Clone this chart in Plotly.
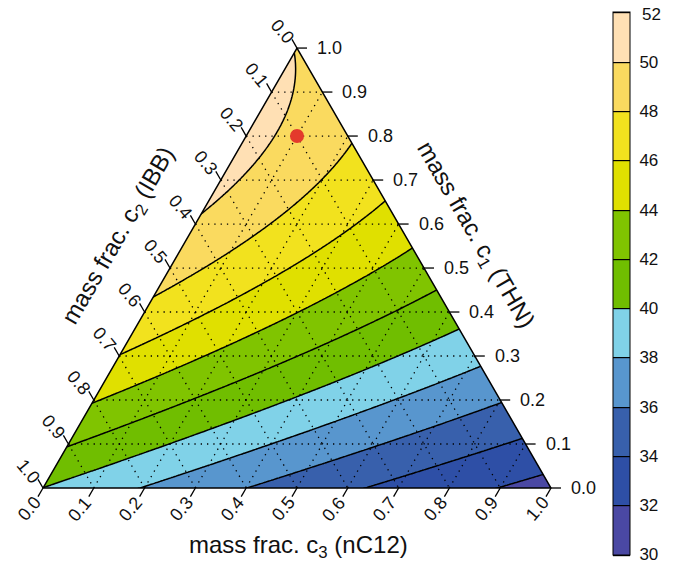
import numpy as np
import plotly.graph_objects as go

# ---------------- data ----------------
level_start, level_end, level_step = 30, 52, 2
# fill colour of each band, 30-32 ... 50-52
band_colors = ["#4A48A3", "#2E4FA6", "#3860AC", "#5896CE", "#80D2E8",
               "#70BE00", "#80C400", "#E0E000", "#F2E21E", "#FADA5F", "#FFE0B4"]
cbar_ticks = [30, 32, 34, 36, 38, 40, 42, 44, 46, 48, 50, 52]

tick_vals = [0.0, 0.1, 0.2, 0.3, 0.4, 0.5, 0.6, 0.7, 0.8, 0.9, 1.0]
tick_text = ["0.0", "0.1", "0.2", "0.3", "0.4", "0.5", "0.6", "0.7", "0.8", "0.9", "1.0"]

obs_c1 = [0.095, 0.193, 0.302, 0.427, 0.625, 1.0, 0.0,
          0.03, 0.114, 0.196, 0.275, 0.359, 0.45, 0.545, 0.655, 0.786,
          0.0, 0.0, 0.0, 0.0,
          0.9, 0.8, 0.7, 0.7, 0.6, 0.6, 0.5, 0.5, 0.4, 0.4, 0.3,
          0.2, 0.2, 0.1, 0.1, 0.2, 0.1, 0.1]
obs_c2 = [0.905, 0.807, 0.698, 0.573, 0.375, 0.0, 1.0,
          0.0, 0.0, 0.0, 0.0, 0.0, 0.0, 0.0, 0.0, 0.0,
          0.803, 0.59, 0.37, 0.104,
          0.06, 0.152, 0.275, 0.101, 0.239, 0.09, 0.425, 0.258, 0.481, 0.288, 0.535,
          0.615, 0.418, 0.714, 0.501, 0.227, 0.273, 0.041]
obs_c3 = [0.0, 0.0, 0.0, 0.0, 0.0, 0.0, 0.0,
          0.97, 0.886, 0.804, 0.725, 0.641, 0.55, 0.455, 0.345, 0.214,
          0.197, 0.41, 0.63, 0.896,
          0.04, 0.048, 0.025, 0.199, 0.161, 0.31, 0.075, 0.242, 0.119, 0.312, 0.165,
          0.185, 0.382, 0.186, 0.399, 0.573, 0.627, 0.859]
obs_level = [42, 44, 46, 48, 50, 50, 40,
             32, 34, 36, 38, 40, 42, 44, 46, 48,
             38, 36, 34, 32,
             50, 50, 50, 48, 48, 46, 48, 46, 46, 44, 44,
             42, 40, 40, 38, 38, 36, 34]

dot_c1, dot_c2, dot_c3 = [0.8], [0.1], [0.1]

title_c1 = "mass frac. c<sub>1</sub> (THN)"
title_c2 = "mass frac. c<sub>2</sub> (IBB)"
title_c3 = "mass frac. c<sub>3</sub> (nC12)"

# ---------------- mixture surface (Scheffe cubic fitted to the readings) ----------------
def basis(a, b, c):
    return np.stack([a, b, c, a * b, a * c, b * c,
                     a * b * (a - b), a * c * (a - c), b * c * (b - c), a * b * c], axis=-1)

A = basis(np.array(obs_c1), np.array(obs_c2), np.array(obs_c3))
coef, *_ = np.linalg.lstsq(A, np.array(obs_level, float), rcond=None)

H = np.sqrt(3) / 2
def to_xy(c1, c2, c3):
    c1 = np.asarray(c1, float); c3 = np.asarray(c3, float)
    return c3 + c1 / 2, c1 * H

xs = np.linspace(-0.01, 1.01, 360)
ys = np.linspace(-0.01, H + 0.01, 320)
XX, YY = np.meshgrid(xs, ys)
C1 = YY / H
C3 = XX - C1 / 2
C2 = 1 - C1 - C3
Z = np.clip(basis(C1, C2, C3) @ coef, 29, 53).round(3)

# ---------------- figure ----------------
OFF = 8                      # page body margin of the browser
W, HGT = 686 - OFF, 567 - OFF
x0px, y0px, side = 43 - OFF, 488 - OFF, 508   # bottom-left vertex & side (px)
xr = [-x0px / side, (W - x0px) / side]
yr = [(y0px - HGT) / side, y0px / side]

def px2x(p):
    return (p - OFF - x0px) / side

def px2y(p):
    return (y0px - (p - OFF)) / side

nb = len(band_colors)
ext = [band_colors[0]] + band_colors + [band_colors[-1]]
fill_scale = [[k / (len(ext) - 1), col] for k, col in enumerate(ext)]

fig = go.Figure()
fig.add_trace(go.Contour(
    x=xs, y=ys, z=Z, zmin=29, zmax=53,
    contours=dict(start=level_start, end=level_end, size=level_step, coloring="fill"),
    colorscale=fill_scale, line=dict(color="black", width=1.5),
    showscale=False, hoverinfo="skip"))

# white masks outside the triangle
pa, pb = -0.06, 1.06
ya, yb = -0.06, H + 0.06
for px, py in [([pa, pb, pb, pa], [ya, ya, 0, 0]),
               ([pa, 0, 0.5, 0.5, pa], [0, 0, H, yb, yb]),
               ([1, pb, pb, 0.5, 0.5], [0, 0, yb, yb, H])]:
    fig.add_trace(go.Scatter(x=px, y=py, fill="toself", fillcolor="white",
                             mode="none", hoverinfo="skip", showlegend=False))

# dotted grid
gx, gy = [], []
for v in tick_vals[1:-1]:
    for a, b in [(to_xy(v, 1 - v, 0), to_xy(v, 0, 1 - v)),
                 (to_xy(1 - v, v, 0), to_xy(0, v, 1 - v)),
                 (to_xy(0, 1 - v, v), to_xy(1 - v, 0, v))]:
        gx += [float(a[0]), float(b[0]), None]
        gy += [float(a[1]), float(b[1]), None]
fig.add_trace(go.Scatter(x=gx, y=gy, mode="lines",
                         line=dict(color="black", width=1.3, dash="1.3px,5px"),
                         hoverinfo="skip", showlegend=False))

# border
bx, by = to_xy([1, 0, 0, 1], [0, 1, 0, 0], [0, 0, 1, 0])
fig.add_trace(go.Scatter(x=bx, y=by, mode="lines", line=dict(color="black", width=1.5),
                         hoverinfo="skip", showlegend=False))

# ticks
L = 10 / side
tx, ty = [], []
for v in tick_vals:
    X, Y = to_xy(v, 0, 1 - v)            # c1 axis (right)
    tx += [float(X), float(X + L), None]; ty += [float(Y), float(Y), None]
    X, Y = to_xy(1 - v, v, 0)            # c2 axis (left)
    tx += [float(X), float(X - 0.5 * L), None]; ty += [float(Y), float(Y + H * L), None]
    X, Y = to_xy(0, 1 - v, v)            # c3 axis (bottom)
    tx += [float(X), float(X - 0.5 * L), None]; ty += [float(Y), float(Y - H * L), None]
fig.add_trace(go.Scatter(x=tx, y=ty, mode="lines", line=dict(color="black", width=1.3),
                         hoverinfo="skip", showlegend=False))

# red point
dx, dy = to_xy(dot_c1, dot_c2, dot_c3)
fig.add_trace(go.Scatter(x=dx, y=dy, mode="markers",
                         marker=dict(size=14, color="#E43A2C"), hoverinfo="skip",
                         showlegend=False))

# colour bar (dummy trace outside the visible range)
eps = 0.02
zlo, zhi = level_start - eps, level_end + eps
def pos(v):
    return (v - zlo) / (zhi - zlo)
step_scale = [[0.0, band_colors[0]]]
for i, col in enumerate(band_colors):
    a = level_start + i * level_step
    step_scale += [[pos(a), col], [pos(a + level_step), col]]
step_scale.append([1.0, band_colors[-1]])
cb_top, cb_len = 12, 543
fig.add_trace(go.Contour(
    x=[5, 6], y=[5, 6], z=[[zlo, zhi], [zlo, zhi]], zmin=zlo, zmax=zhi,
    contours=dict(start=level_start, end=level_end, size=level_step, coloring="heatmap"),
    colorscale=step_scale, line=dict(color="black", width=1.2), hoverinfo="skip",
    showscale=True,
    colorbar=dict(x=(613 - OFF) / W, xanchor="left", y=1 - (cb_top - OFF) / HGT,
                  yanchor="top", lenmode="pixels", len=cb_len, thickness=17, xpad=0, ypad=0,
                  outlinecolor="black", outlinewidth=1,
                  tickmode="array", tickvals=cbar_ticks[:-1],
                  ticks="outside", ticklen=6, tickcolor="rgba(0,0,0,0)",
                  tickfont=dict(size=17, color="#111", family="Liberation Sans"))))

font = dict(family="Liberation Sans", size=18, color="#111")
ann = []
# top colour-bar label, kept just inside the page
ann.append(dict(xref="paper", yref="paper", x=(640 - OFF) / W, y=1 - (15 - OFF) / HGT,
                text=str(cbar_ticks[-1]), showarrow=False, xanchor="left", yanchor="middle",
                font=dict(size=17, color="#111", family="Liberation Sans")))
for v, t in zip(tick_vals, tick_text):
    X, Y = to_xy(v, 0, 1 - v)
    ann.append(dict(x=float(X), y=float(Y), text=t, showarrow=False, xanchor="left",
                    yanchor="middle", xshift=18, font=font))
    X, Y = to_xy(1 - v, v, 0)
    ann.append(dict(x=float(X), y=float(Y), text=t, showarrow=False, xanchor="center",
                    yanchor="middle", xshift=-15, yshift=17, textangle=50, font=font))
    X, Y = to_xy(0, 1 - v, v)
    ann.append(dict(x=float(X), y=float(Y), text=t, showarrow=False, xanchor="center",
                    yanchor="middle", xshift=-14, yshift=-21, textangle=-50, font=font))

tfont = dict(family="Liberation Sans", size=24, color="#111")
ann.append(dict(x=px2x(119), y=px2y(236), text=title_c2, showarrow=False,
                textangle=-60, xanchor="center", yanchor="middle", font=tfont))
ann.append(dict(x=px2x(475), y=px2y(235), text=title_c1, showarrow=False,
                textangle=60, xanchor="center", yanchor="middle", font=tfont))
ann.append(dict(x=px2x(298), y=px2y(546), text=title_c3, showarrow=False,
                xanchor="center", yanchor="middle", font=tfont))

fig.update_layout(
    width=W, height=HGT, margin=dict(l=0, r=0, t=0, b=0),
    paper_bgcolor="white", plot_bgcolor="white", showlegend=False,
    xaxis=dict(range=xr, visible=False, fixedrange=True),
    yaxis=dict(range=yr, visible=False, fixedrange=True),
    annotations=ann, font=font)

fig.write_html("out.html")
